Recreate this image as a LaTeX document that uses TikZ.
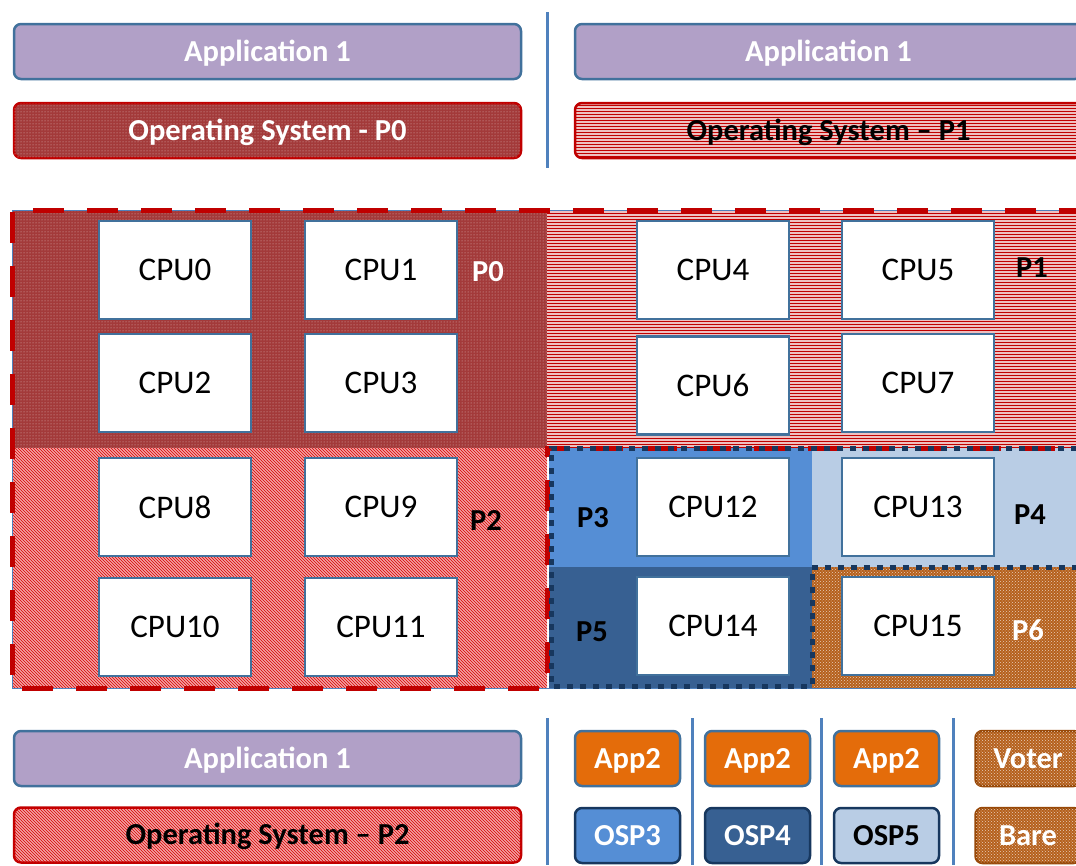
\documentclass[tikz,border=0pt]{standalone}
\usepackage{fontspec}
\setmainfont{Carlito}
\usetikzlibrary{patterns}

\definecolor{appfill}{HTML}{B1A0C7}
\definecolor{edgeblue}{HTML}{41719C}
\definecolor{sepblue}{HTML}{4F81BD}
\definecolor{osred}{HTML}{C00000}
\definecolor{pzero}{HTML}{A33A3A}
\definecolor{pone}{HTML}{EEC0C0}
\definecolor{ptwo}{HTML}{F0A4A4}
\definecolor{pthree}{HTML}{558ED5}
\definecolor{pfour}{HTML}{B9CDE5}
\definecolor{pfive}{HTML}{376092}
\definecolor{psix}{HTML}{B5601C}
\definecolor{psixedge}{HTML}{984807}
\definecolor{navy}{HTML}{17375E}
\definecolor{appor}{HTML}{E46C0A}

\newcommand\cpufont{\fontsize{33}{39}\selectfont}
\newcommand\labfont{\fontsize{30.5}{36}\selectfont\bfseries}

\tikzset{
  cpu/.style={draw=edgeblue, line width=2.5pt, fill=white, minimum width=152pt, minimum height=98pt, inner sep=0pt, font=\cpufont},
  bar/.style={rounded corners=7pt, line width=2.5pt, minimum width=507pt, minimum height=55pt, inner sep=0pt, font=\labfont, text depth=0pt, text height=19pt},
  appbar/.style={bar, draw=edgeblue, fill=appfill, text=white},
  osbar/.style={bar, draw=osred},
  tag/.style={rounded corners=7pt, line width=2.5pt, minimum width=105pt, minimum height=55pt, inner sep=0pt, font=\labfont, text depth=0pt, text height=19pt},
  plabel/.style={font=\labfont},
  dotfill/.style={fill=pzero, postaction={pattern=dots, pattern color=white!65!pzero}},
  hfill/.style={fill=pone, postaction={pattern=horizontal lines, pattern color=osred}},
  dfill/.style={fill=ptwo, postaction={pattern=north west lines, pattern color=red!85!black}},
  bfill/.style={fill=psix, postaction={pattern=crosshatch dots, pattern color=white!70!psix}},
  sep/.style={draw=sepblue, line width=3pt},
}

\begin{document}
\begin{tikzpicture}[x=1pt, y=-1pt]
\useasboundingbox (0,0) rectangle (1076,865);
\clip (0,0) rectangle (1076,865);

% top: partitions P0 and P1
\node[appbar] (app0) at (267.5,51.5) {Application 1};
\node[osbar, dotfill, text=white] (os0) at (267.5,130.5) {Operating System - P0};
\node[appbar] (app1) at (828.5,51.5) {Application 1};
\node[osbar, hfill] (os1) at (828.5,130.5) {Operating System – P1};
\draw[sep] (547,12) -- (547,168);

% partition regions
\path[dotfill] (12,210) rectangle (547,448);
\path[hfill] (547,210) rectangle (1090,448);
\path[dfill] (12,448) rectangle (547,688);
\fill[pthree] (549,448) rectangle (812,567);
\fill[pfour] (812,448) rectangle (1090,567);
\fill[pfive] (549,567) rectangle (812,688);
\path[bfill] (812,567) rectangle (1090,688);
\draw[sepblue, line width=1pt] (12,210) rectangle (1090,688);

% outlines
\draw[osred, line width=5pt, dash pattern=on 31pt off 23pt] (1090,210) -- (12,210) -- (12,688) -- (547,688) -- (547,448) -- (1090,448);
\draw[navy, line width=5pt, dash pattern=on 6pt off 7pt] (1090,448) -- (551,448) -- (551,686) -- (812,686) -- (812,567) -- (1090,567);

% cores
\node[cpu] (cpu0) at (175,270) {CPU0};
\node[cpu] (cpu1) at (381,270) {CPU1};
\node[cpu] (cpu2) at (175,383) {CPU2};
\node[cpu] (cpu3) at (381,383) {CPU3};
\node[cpu] (cpu4) at (713,270) {CPU4};
\node[cpu] (cpu5) at (918,270) {CPU5};
\node[cpu] (cpu6) at (713,385.5) {CPU6};
\node[cpu] (cpu7) at (918,383) {CPU7};
\node[cpu] (cpu8) at (175,507) {CPU8};
\node[cpu] (cpu9) at (381,507) {CPU9};
\node[cpu] (cpu10) at (175,627) {CPU10};
\node[cpu] (cpu11) at (381,627) {CPU11};
\node[cpu] (cpu12) at (713,507) {CPU12};
\node[cpu] (cpu13) at (918,507) {CPU13};
\node[cpu] (cpu14) at (713,626) {CPU14};
\node[cpu] (cpu15) at (918,626) {CPU15};

\node[plabel, text=white] (p0) at (488,272) {P0};
\node[plabel] (p1) at (1032,268) {P1};
\node[plabel] (p2) at (486,520) {P2};
\node[plabel] (p3) at (593,518) {P3};
\node[plabel] (p4) at (1030,515) {P4};
\node[plabel] (p5) at (592,632) {P5};
\node[plabel, text=white] (p6) at (1028,630) {P6};

% bottom: software stacks
\node[appbar] (app2) at (267.5,758.5) {Application 1};
\node[osbar, dfill] (os2) at (267.5,835) {Operating System – P2};
\foreach \x in {547,692,821,953}
  \draw[sep] (\x,718) -- (\x,865);
\node[tag, draw=edgeblue, fill=appor, text=white] (appa) at (627.5,758.5) {App2};
\node[tag, draw=edgeblue, fill=appor, text=white] (appb) at (757.5,758.5) {App2};
\node[tag, draw=edgeblue, fill=appor, text=white] (appc) at (886.5,758.5) {App2};
\node[tag, draw=psixedge, bfill, text=white] (voter) at (1028,758.5) {Voter};
\node[tag, draw=navy, fill=pthree, text=white] (osp3) at (627.5,835.5) {OSP3};
\node[tag, draw=navy, fill=pfive, text=white] (osp4) at (757.5,835.5) {OSP4};
\node[tag, draw=navy, fill=pfour] (osp5) at (886.5,835.5) {OSP5};
\node[tag, draw=psixedge, bfill, text=white] (bare) at (1028,835.5) {Bare};
\end{tikzpicture}
\end{document}
